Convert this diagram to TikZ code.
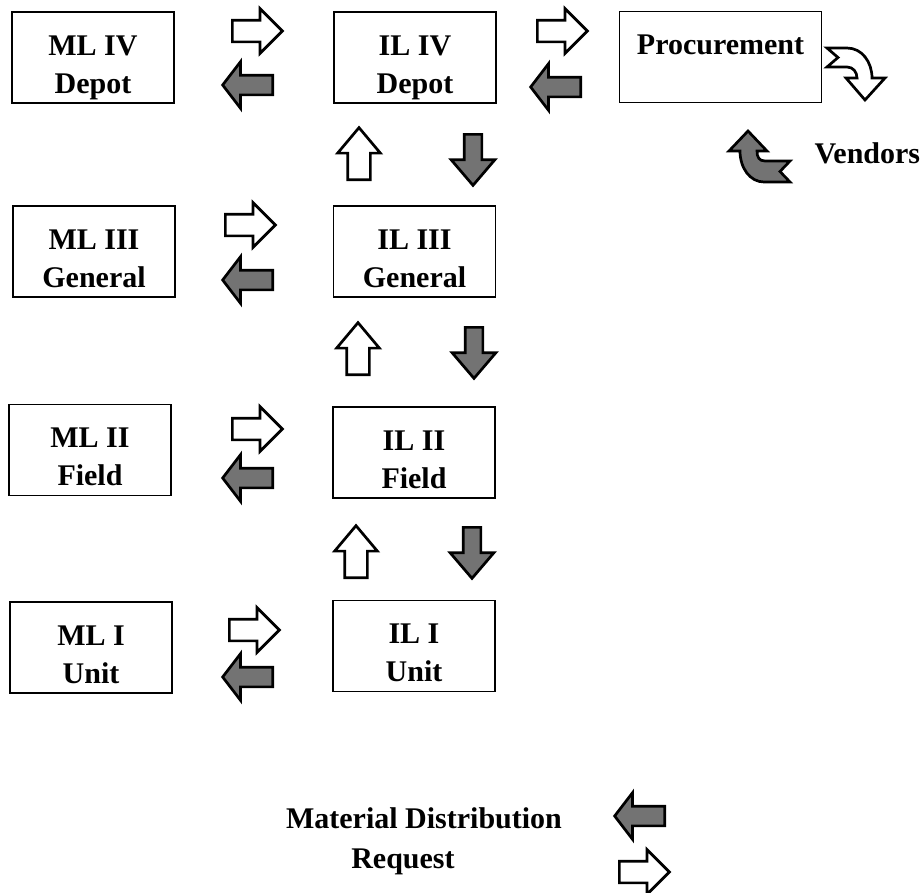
\documentclass[tikz,border=0pt]{standalone}
\usepackage{fontspec}
\setmainfont{Liberation Serif}
\usepackage{tikz}
\usetikzlibrary{shapes.arrows}
\tikzstyle{level} = [draw, line width=1.3pt, minimum width=162pt, minimum height=91pt, inner ysep=1pt, align=center, font=\bfseries\fontsize{30}{38}\selectfont, text height=78pt, text depth=7pt]
\tikzstyle{legendtext} = [font=\bfseries\fontsize{30}{38}\selectfont]
\tikzstyle{request} = [single arrow, draw, line width=2.7pt, fill=white, inner xsep=0pt, inner ysep=9.5pt, minimum height=50pt, single arrow head extend=11.5pt, single arrow tip angle=90, anchor=tail]
\tikzstyle{supply} = [single arrow, draw, line width=2.7pt, fill=black!55, inner xsep=0pt, inner ysep=8.5pt, minimum height=50pt, single arrow head extend=13.5pt, single arrow tip angle=105, anchor=tail]
\tikzstyle{requp} = [request, rotate=90, inner ysep=10pt, single arrow head extend=10pt, single arrow tip angle=80, minimum height=52pt]
\tikzstyle{supdown} = [supply, rotate=-90, inner ysep=7.5pt, single arrow head extend=13pt, single arrow tip angle=81, minimum height=51pt]

\begin{document}
\begin{tikzpicture}[x=1pt, y=1pt]
\useasboundingbox (0,0) rectangle (921,-892);

% levels
\node[level] (mlIV) at (93,-57.5) {ML IV\\Depot};
\node[level] (ilIV) at (415,-57.5) {IL IV\\Depot};
\node[level, minimum width=202pt, text height=21pt, text depth=26pt] (proc) at (720.5,-57) {Procurement};
\node[level] (mlIII) at (94,-251.5) {ML III\\General};
\node[level] (ilIII) at (414.5,-251.5) {IL III\\General};
\node[level] (mlII) at (90,-450) {ML II\\Field};
\node[level] (ilII) at (414,-452.5) {IL II\\Field};
\node[level] (mlI) at (91,-647.5) {ML I\\Unit};
\node[level] (ilI) at (414,-646) {IL I\\Unit};

% requests and distribution between the levels
\node[request] (reqIV) at (231,-31) {};
\node[supply, rotate=180] (supIV) at (274,-85) {};
\node[request] (reqIII) at (224,-225) {};
\node[supply, rotate=180] (supIII) at (274,-280) {};
\node[request] (reqII) at (231,-429) {};
\node[supply, rotate=180] (supII) at (274,-478) {};
\node[request] (reqI) at (228,-630) {};
\node[supply, rotate=180] (supI) at (274,-677) {};
\node[request] (reqproc) at (536,-31) {};
\node[supply, rotate=180] (supproc) at (582,-87) {};

\node[requp] (upIII) at (359,-181) {};
\node[supdown] (downIII) at (473,-133) {};
\node[requp] (upII) at (358,-376) {};
\node[supdown] (downII) at (474,-326) {};
\node[requp] (upI) at (356,-579) {};
\node[supdown] (downI) at (472,-526) {};

% vendors
\draw[line width=2.7pt, fill=white] (827,-48) -- (847,-48) .. controls (862,-48) and (872,-62) .. (872,-78)
  -- (885,-78) -- (865,-100) -- (846,-78) -- (857,-78) .. controls (857,-72) and (853,-67) .. (847,-67)
  -- (827,-67) -- (838,-57.5) -- cycle;
\draw[line width=2.7pt, fill=black!55] (748,-131) -- (767,-151) -- (757,-151) .. controls (757,-157) and (759,-161) .. (765,-161)
  -- (790,-161) -- (780,-171.5) -- (790,-182) -- (764,-182) .. controls (750,-182) and (740,-168) .. (740,-151)
  -- (729,-151) -- cycle;
\node[legendtext, anchor=base west] (vendors) at (811,-163) {Vendors};

% legend
\node[legendtext, anchor=base] (distlabel) at (424,-828) {Material Distribution};
\node[legendtext, anchor=base] (reqlabel) at (403,-868) {Request};
\node[supply, rotate=180] (supkey) at (666,-816) {};
\node[request] (reqkey) at (618,-872) {};
\end{tikzpicture}
\end{document}
